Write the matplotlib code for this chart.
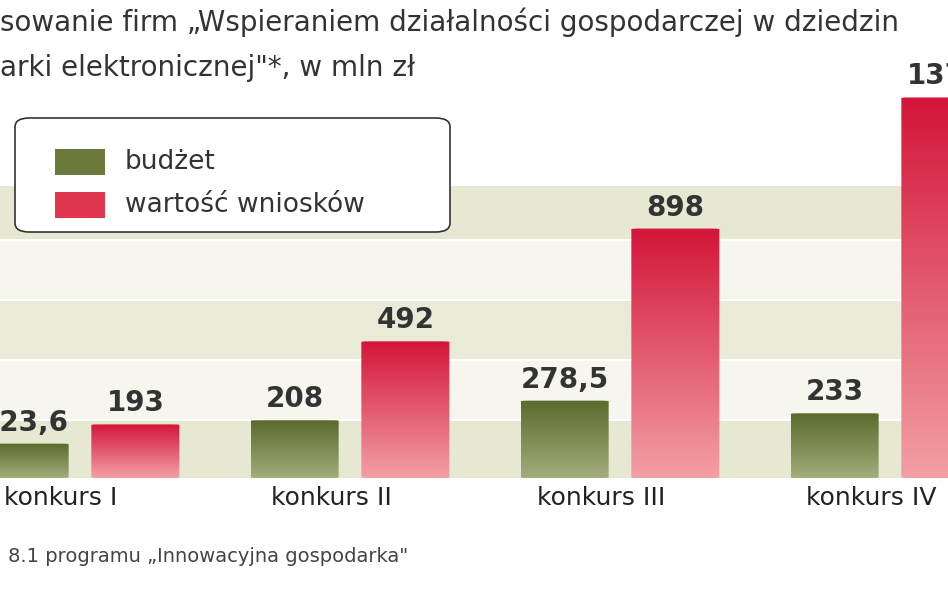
import numpy as np
import matplotlib.pyplot as plt
from matplotlib.patches import FancyBboxPatch, Rectangle
from matplotlib.colors import LinearSegmentedColormap

# data (mln zł)
categories = ['konkurs I', 'konkurs II', 'konkurs III', 'konkurs IV']
budzet = [123.6, 208, 278.5, 233]
wnioski = [193, 492, 898, 1370]
budzet_labels = ['123,6', '208', '278,5', '233']
wnioski_labels = ['193', '492', '898', '1370']

W, H = 948, 593
fig = plt.figure(figsize=(W / 100, H / 100), dpi=100)
fig.patch.set_facecolor('white')

base_px = 478
scale = 3.6  # mln zł per pixel
ax = fig.add_axes([0, (H - base_px) / H, 1, base_px / H])
ax.set_xlim(-80 / 270, (W - 80) / 270)
ax.set_ylim(0, base_px * scale)
ax.axis('off')

# background bands
band_px = [185, 240, 300, 360, 420, 478]
band_cols = ['#e6e8d2', '#f6f6ee', '#e9ebd8', '#f6f6ee', '#e6e8d2']
for i in range(len(band_px) - 1):
    ax.axhspan((base_px - band_px[i + 1]) * scale, (base_px - band_px[i]) * scale,
               color=band_cols[i], zorder=0, lw=0)
    ax.axhline((base_px - band_px[i]) * scale, color='white', lw=1.5, zorder=0.5)

green = LinearSegmentedColormap.from_list('g', ['#a3ad7c', '#5a6a2c'])
red = LinearSegmentedColormap.from_list('r', ['#f3a0a4', '#d3153a'])
grad = np.linspace(0, 1, 256).reshape(-1, 1)

w = 0.326
off = 0.205
for i in range(len(categories)):
    for x, v, cm, lab in [(i - off, budzet[i], green, budzet_labels[i]),
                          (i + off, wnioski[i], red, wnioski_labels[i])]:
        im = ax.imshow(grad, cmap=cm, aspect='auto', origin='lower',
                       extent=(x - w / 2, x + w / 2, 0, v), zorder=2)
        clip = FancyBboxPatch((x - w / 2, 0), w, v, boxstyle='round,pad=0,rounding_size=0.03',
                              transform=ax.transData, fc='none', ec='none',
                              mutation_aspect=60)
        ax.add_patch(clip)
        im.set_clip_path(clip)
        ax.text(x, v + 25, lab, ha='center', va='bottom', fontsize=20,
                fontweight='bold', color='#333333', zorder=3)
    ax.text(i - 0.07, -30, categories[i], ha='center', va='top', fontsize=18,
            color='#222222', clip_on=False)

ax.set_xlim(-80 / 270, (W - 80) / 270)
ax.set_ylim(0, base_px * scale)

# title
fig.text(0.0, 1 - 22 / H, 'sowanie firm \u201eWspieraniem działalności gospodarczej w dziedzin',
         fontsize=20, color='#333333', va='center', ha='left')
fig.text(0.0, 1 - 68 / H, 'arki elektronicznej"*, w mln zł',
         fontsize=20, color='#333333', va='center', ha='left')

# legend
fig.patches.append(FancyBboxPatch((15 / W, 1 - 232 / H), 435 / W, 114 / H,
                                  boxstyle='round,pad=0,rounding_size=0.015',
                                  transform=fig.transFigure, fc='white', ec='#333333',
                                  lw=1.2, zorder=5))
for yp, c, t in [(162, '#6b7a3a', 'budżet'), (205, '#e0364f', 'wartość wniosków')]:
    fig.patches.append(Rectangle((55 / W, 1 - (yp + 13) / H), 50 / W, 26 / H,
                                 transform=fig.transFigure, fc=c, ec='none', zorder=6))
    fig.text(125 / W, 1 - yp / H, t, fontsize=19, color='#333333', va='center', zorder=7)

# footnote
fig.text(8 / W, 1 - 556 / H, '8.1 programu \u201eInnowacyjna gospodarka"',
         fontsize=14, color='#444444', va='center')

fig.savefig('out.png', dpi=100, facecolor='white')
